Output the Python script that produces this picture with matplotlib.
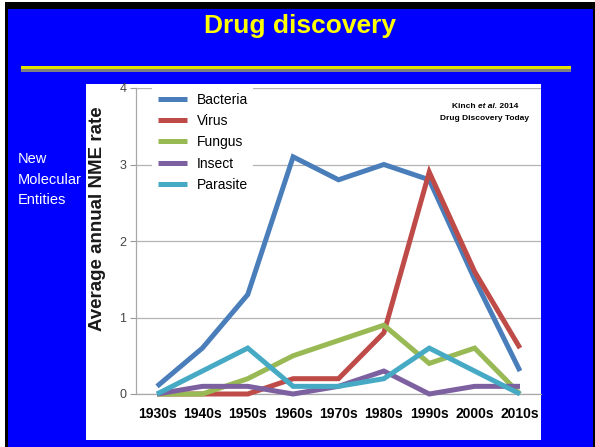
import matplotlib
matplotlib.use("Agg")
import matplotlib.pyplot as plt
from matplotlib.patches import Rectangle

plt.rcParams['font.family'] = ['Liberation Sans', 'DejaVu Sans']

# ---- data -------------------------------------------------------------
decades = ["1930s", "1940s", "1950s", "1960s", "1970s",
           "1980s", "1990s", "2000s", "2010s"]
bacteria = [0.1, 0.6, 1.3, 3.1, 2.8, 3.0, 2.8, 1.5, 0.3]
virus = [0.0, 0.0, 0.0, 0.2, 0.2, 0.8, 2.9, 1.6, 0.6]
fungus = [0.0, 0.0, 0.2, 0.5, 0.7, 0.9, 0.4, 0.6, 0.0]
insect = [0.0, 0.1, 0.1, 0.0, 0.1, 0.3, 0.0, 0.1, 0.1]
parasite = [0.0, 0.3, 0.6, 0.1, 0.1, 0.2, 0.6, 0.3, 0.0]
series_names = ["Bacteria", "Virus", "Fungus", "Insect", "Parasite"]
series_values = [bacteria, virus, fungus, insect, parasite]
y_ticks = [0, 1, 2, 3, 4]

colors = ["#4a7ebb", "#be4b48", "#98b954", "#7d60a0", "#46aac5"]

# ---- canvas -----------------------------------------------------------
W, H = 595, 447
fig = plt.figure(figsize=(W / 100, H / 100), dpi=100)
fig.patch.set_facecolor("#0000ff")


def fx(x):
    return x / W


def fy(y):
    return 1 - y / H


def px_rect(x0, y0, x1, y1, color, z=0):
    fig.add_artist(Rectangle((fx(x0), fy(y1)), (x1 - x0) / W, (y1 - y0) / H,
                             transform=fig.transFigure, facecolor=color,
                             edgecolor="none", zorder=z))


# slide frame
px_rect(0, 0, W, 2, "white")
px_rect(0, 2, W, 8.5, "black")
px_rect(0, 0, 4.5, H, "white")
px_rect(4.5, 2, 7.5, H, "black")
px_rect(593, 2, W, H, "black")

# title and rule
fig.text(fx(300), fy(33), "Drug discovery", color="#ffff00", fontsize=19,
         fontweight="bold", ha="center", va="baseline")
px_rect(21, 65.5, 571, 69, "#e2e200")
px_rect(21, 69, 571, 71.5, "#808080")

# side caption
for i, line in enumerate(["New", "Molecular", "Entities"]):
    fig.text(fx(18), fy(163 + i * 20.5), line, color="white", fontsize=10.5,
             ha="left", va="baseline")

# white chart panel
px_rect(86, 84, 541, 440, "white")

# ---- chart ------------------------------------------------------------
ax = fig.add_axes([fx(136), fy(394), (541 - 136) / W, (394 - 88) / H])
ax.set_facecolor("none")
x = list(range(len(decades)))
for name, vals, c in zip(series_names, series_values, colors):
    ax.plot(x, vals, color=c, lw=3.6, label=name, clip_on=False,
            solid_joinstyle="miter", solid_capstyle="butt", zorder=3)

ax.set_xlim(-0.463, 8.463)
ax.set_ylim(0, 4)
ax.set_yticks(y_ticks)
ax.set_xticks(x)
ax.set_xticklabels(decades, fontweight="bold", fontsize=10)
ax.tick_params(axis="x", length=0, pad=9, colors="black")
ax.tick_params(axis="y", length=4, width=0.8, pad=3, color="#9a9a9a",
               labelcolor="#444444", labelsize=9)
ax.grid(axis="y", color="#b4b4b4", lw=0.9)
ax.set_axisbelow(True)
for s in ["top", "right"]:
    ax.spines[s].set_visible(False)
for s in ["left", "bottom"]:
    ax.spines[s].set_color("#a8a8a8")
    ax.spines[s].set_linewidth(0.9)

ax.set_ylabel("Average annual NME rate", fontweight="bold", fontsize=13.5,
              color="#1a1a1a")
ax.yaxis.set_label_coords((106 - 136) / 405, (394 - 219) / 306)

leg = ax.legend(loc="upper left", bbox_to_anchor=(fx(152), fy(87)),
                bbox_transform=fig.transFigure, borderaxespad=0,
                borderpad=0.4, fontsize=10, handlelength=2.15,
                handletextpad=0.65, labelspacing=0.53, frameon=True,
                fancybox=False)
leg.get_frame().set_facecolor("white")
leg.get_frame().set_edgecolor("none")
leg.get_frame().set_alpha(1)
for h in leg.get_lines():
    h.set_linewidth(3.6)

# source note: "Kinch et al. 2014" with the Latin part in italics
fig.canvas.draw()
renderer = fig.canvas.get_renderer()
parts = [("Kinch ", "normal"), ("et al.", "italic"), (" 2014", "normal")]
pieces = []
for txt, style in parts:
    pieces.append(fig.text(0, fy(106), txt, fontsize=6, fontweight="bold",
                           fontstyle=style, ha="left", va="center"))
widths = [p.get_window_extent(renderer).width for p in pieces]
xpos = 485 - sum(widths) / 2
for p, w in zip(pieces, widths):
    p.set_x(fx(xpos))
    xpos += w
fig.text(fx(485), fy(118), "Drug Discovery Today", fontsize=6,
         fontweight="bold", ha="center", va="center")

fig.savefig("out.png", dpi=100, facecolor=fig.get_facecolor())
